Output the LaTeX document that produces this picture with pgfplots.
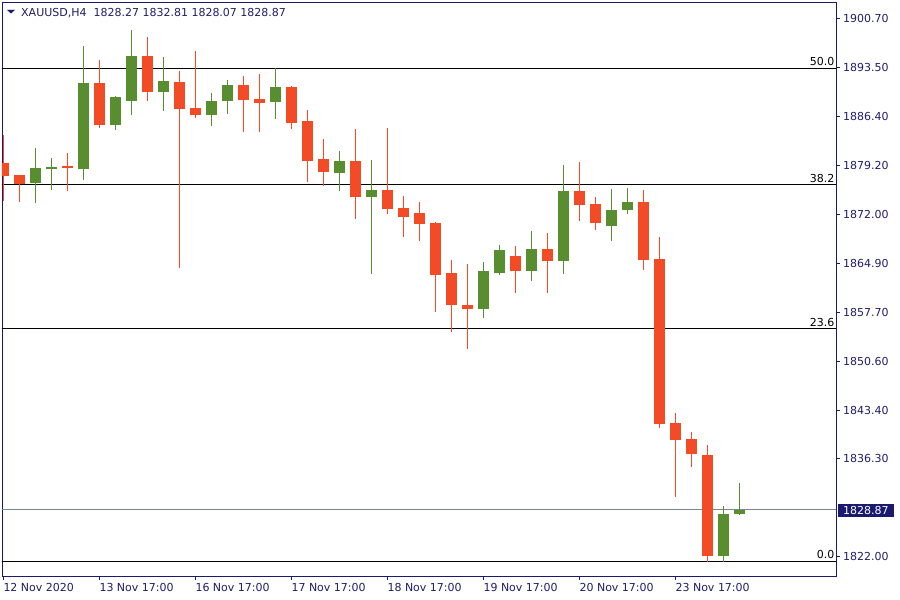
\documentclass[border=0pt]{standalone}
\usepackage{fontspec}
\setmainfont{DejaVu Sans}
\usepackage{graphicx}
\usepackage{pgfplots}
\usepackage{pgfplotstable}
\pgfplotsset{compat=1.18}
\definecolor{cred}{RGB}{243,75,38}
\definecolor{cgreen}{RGB}{89,142,48}
\definecolor{cnavy}{RGB}{25,25,112}
\definecolor{ctext}{RGB}{35,28,105}
\definecolor{cprice}{RGB}{119,136,153}

\pgfplotstableread{
x o h l c
0 1879.55 1883.64 1874.04 1877.69
1 1877.84 1877.84 1873.89 1876.52
4 1879.15 1881.01 1875.46 1878.86
6 1891.29 1894.60 1884.66 1885.10
9 1895.23 1898.01 1888.66 1889.97
11 1891.43 1893.04 1864.24 1887.49
12 1887.63 1895.96 1886.17 1886.61
15 1890.95 1892.27 1884.12 1888.80
16 1888.95 1892.60 1884.12 1888.36
18 1890.70 1890.85 1884.56 1885.44
19 1885.69 1887.30 1876.81 1879.88
20 1880.13 1883.06 1876.23 1878.28
22 1879.84 1884.51 1871.41 1874.62
24 1875.60 1884.66 1872.14 1872.87
25 1872.97 1874.72 1868.77 1871.70
26 1872.24 1873.85 1868.19 1870.68
27 1870.78 1870.90 1857.81 1863.22
28 1863.47 1865.37 1854.89 1858.84
29 1858.79 1864.79 1852.40 1858.25
32 1865.96 1867.41 1860.59 1863.81
34 1866.97 1869.31 1860.59 1865.27
36 1875.46 1879.69 1871.11 1873.45
37 1873.55 1874.58 1869.80 1870.82
40 1873.85 1875.60 1863.95 1865.41
41 1865.52 1868.73 1840.85 1841.44
42 1841.54 1843.00 1830.77 1839.10
43 1839.20 1840.23 1835.15 1837.05
44 1836.87 1838.33 1821.30 1822.14
}\redtab

\pgfplotstableread{
x o h l c
2 1876.67 1881.74 1873.74 1878.82
3 1878.72 1880.28 1875.60 1878.96
5 1878.67 1896.69 1877.06 1891.29
7 1885.10 1889.39 1884.37 1889.24
8 1888.66 1898.99 1886.56 1895.23
10 1889.97 1895.09 1887.19 1891.58
13 1886.61 1889.82 1885.00 1888.66
14 1888.66 1891.72 1886.76 1890.95
17 1888.51 1893.48 1886.02 1890.70
21 1878.13 1881.30 1875.50 1879.84
23 1874.62 1879.99 1863.37 1875.60
30 1858.25 1865.08 1856.93 1863.76
31 1863.51 1867.56 1863.22 1866.83
33 1863.81 1869.61 1862.34 1866.97
35 1865.27 1879.26 1863.37 1875.46
38 1870.38 1875.75 1868.19 1872.68
39 1872.72 1875.90 1872.14 1873.85
45 1822.14 1829.41 1821.30 1828.24
46 1828.27 1832.81 1828.07 1828.87
}\greentab

\begin{document}
\begin{tikzpicture}
\useasboundingbox (0,0) rectangle (900pt,600pt);
\begin{axis}[
  at={(2pt,24pt)}, anchor=south west,
  width=834pt, height=574pt, scale only axis,
  xmin=-0.08125, xmax=52.04,
  ymin=1819.18, ymax=1903.08,
  clip mode=individual,
  axis line style={draw=cnavy, line width=0.9pt},
  tick style={draw=cnavy, line width=0.9pt},
  tick align=outside,
  major tick length=4pt,
  xtick pos=bottom, ytick pos=right,
  yticklabel pos=right,
  xtick={0,6,12,18,24,30,36,42},
  xticklabels={12 Nov 2020,13 Nov 17:00,16 Nov 17:00,17 Nov 17:00,18 Nov 17:00,19 Nov 17:00,20 Nov 17:00,23 Nov 17:00},
  ytick={1822,1836.3,1843.4,1850.6,1857.7,1864.9,1872,1879.2,1886.4,1893.5,1900.7},
  yticklabels={1822.00,1836.30,1843.40,1850.60,1857.70,1864.90,1872.00,1879.20,1886.40,1893.50,1900.70},
  ticklabel style={font=\fontsize{11}{13}\selectfont, text=ctext},
  xticklabel style={anchor=north west, inner sep=0pt, yshift=-3pt},
  yticklabel style={anchor=west, inner sep=0pt, xshift=3pt},
]
% Fibonacci levels and current price line (behind candles)
\addplot[black, line width=0.9pt, forget plot] coordinates {(-1,1893.39) (53,1893.39)};
\addplot[black, line width=0.9pt, forget plot] coordinates {(-1,1876.40) (53,1876.40)};
\addplot[black, line width=0.9pt, forget plot] coordinates {(-1,1855.32) (53,1855.32)};
\addplot[black, line width=0.9pt, forget plot] coordinates {(-1,1821.33) (53,1821.33)};
\addplot[cprice, line width=0.8pt, forget plot] coordinates {(-1,1828.87) (53,1828.87)};

% wicks
\addplot[draw=none, mark=none, forget plot,
  error bars/.cd, y dir=both, y explicit, error mark=none,
  error bar style={draw=cred, line width=1pt}]
  table[x=x, y expr={(\thisrow{h}+\thisrow{l})/2}, y error expr={(\thisrow{h}-\thisrow{l})/2}] {\redtab};
\addplot[draw=none, mark=none, forget plot,
  error bars/.cd, y dir=both, y explicit, error mark=none,
  error bar style={draw=cgreen, line width=1pt}]
  table[x=x, y expr={(\thisrow{h}+\thisrow{l})/2}, y error expr={(\thisrow{h}-\thisrow{l})/2}] {\greentab};
% bodies
\addplot[draw=none, mark=none, forget plot,
  error bars/.cd, y dir=both, y explicit, error mark=none,
  error bar style={draw=cred, line width=11pt}]
  table[x=x, y expr={(\thisrow{o}+\thisrow{c})/2}, y error expr={abs(\thisrow{o}-\thisrow{c})/2}] {\redtab};
\addplot[draw=none, mark=none, forget plot,
  error bars/.cd, y dir=both, y explicit, error mark=none,
  error bar style={draw=cgreen, line width=11pt}]
  table[x=x, y expr={(\thisrow{o}+\thisrow{c})/2}, y error expr={abs(\thisrow{o}-\thisrow{c})/2}] {\greentab};

% level labels
\node[anchor=base east, inner sep=0pt, yshift=2.5pt, font=\fontsize{11}{13}\selectfont] at (axis cs:51.95,1893.39) {50.0};
\node[anchor=base east, inner sep=0pt, yshift=2.5pt, font=\fontsize{11}{13}\selectfont] at (axis cs:51.95,1876.40) {38.2};
\node[anchor=base east, inner sep=0pt, yshift=2.5pt, font=\fontsize{11}{13}\selectfont] at (axis cs:51.95,1855.32) {23.6};
\node[anchor=base east, inner sep=0pt, yshift=2.5pt, font=\fontsize{11}{13}\selectfont] at (axis cs:51.95,1821.33) {0.0};
\end{axis}
% title
\node[anchor=center, inner sep=0pt, text=cnavy, font=\fontsize{11}{13}\selectfont] at (11pt,587.8pt) {\scalebox{1}[0.45]{▼}};
\node[anchor=base west, inner sep=0pt, text=ctext, font=\fontsize{11}{13}\selectfont] at (21pt,583pt) {XAUUSD,H4\ \ 1828.27 1832.81 1828.07 1828.87};
% current price box
\node[anchor=west, fill=cnavy, text=white, inner xsep=5pt, inner ysep=0pt, minimum height=13pt, font=\fontsize{11}{13}\selectfont] at (838pt,89.5pt) {1828.87};
\end{tikzpicture}
\end{document}
